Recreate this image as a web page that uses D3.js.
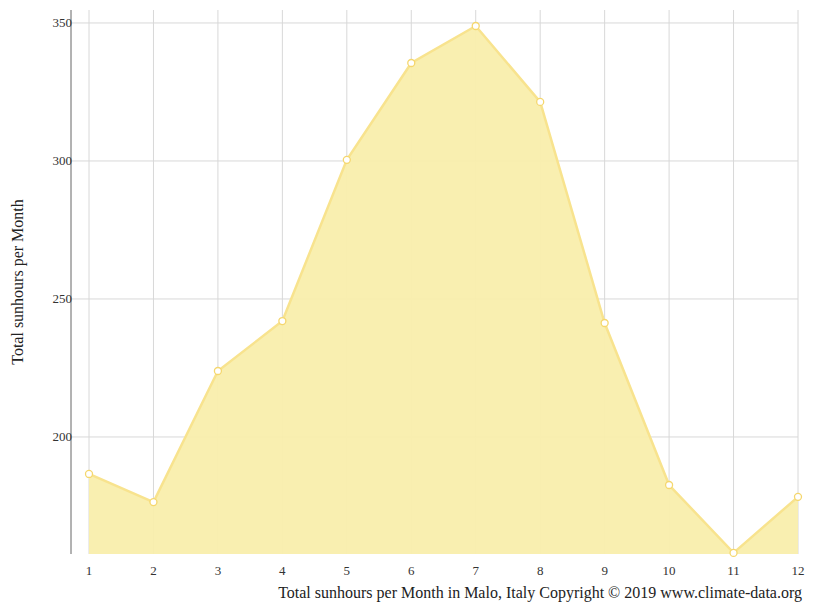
<!DOCTYPE html>
<html><head><meta charset="utf-8">
<script src="https://cdn.jsdelivr.net/npm/d3@7"></script>
<style>body{margin:0;background:#fff}text{font-family:"Liberation Serif",serif}</style>
</head><body><svg width="815" height="611"></svg>
<script>
const months=[1,2,3,4,5,6,7,8,9,10,11,12];
const sunhours=[186.6,176.4,223.9,242,300.4,335.5,348.9,321.4,241.3,182.6,158,178.3];
const yTicks=[200,250,300,350];
const svg=d3.select("svg");
const x=d3.scaleLinear().domain([1,12]).range([89,798]);
const y=d3.scaleLinear().domain([157.6,354.7]).range([554,10]);
svg.selectAll(".vg").data(months).enter().append("line")
 .attr("x1",d=>x(d)).attr("x2",d=>x(d)).attr("y1",10).attr("y2",554).attr("stroke","#d8d8d8");
svg.selectAll(".hg").data(yTicks).enter().append("line")
 .attr("x1",71).attr("x2",798).attr("y1",d=>y(d)).attr("y2",d=>y(d)).attr("stroke","#d8d8d8");
const data=months.map((m,i)=>[m,sunhours[i]]);
svg.append("path").datum(data).attr("fill","#f9eeac").attr("fill-opacity",0.95)
 .attr("d",d3.area().x(d=>x(d[0])).y0(554).y1(d=>y(d[1])));
svg.append("path").datum(data).attr("fill","none").attr("stroke","#f8e38e").attr("stroke-width",2.5)
 .attr("d",d3.line().x(d=>x(d[0])).y(d=>y(d[1])));
svg.selectAll("circle").data(data).enter().append("circle")
 .attr("cx",d=>x(d[0])).attr("cy",d=>y(d[1])).attr("r",3.5).attr("fill","#fff").attr("stroke","#f5d76e").attr("stroke-width",1.3);
svg.append("line").attr("x1",71).attr("x2",71).attr("y1",10).attr("y2",554).attr("stroke","#666");
svg.selectAll(".yl").data(yTicks).enter().append("text")
 .attr("x",72).attr("y",d=>y(d)+4).attr("text-anchor","end").attr("font-size",13).attr("fill","#333").text(d=>d).attr("dx",0).attr("x",72);
svg.selectAll(".yl2").data([]).enter();
svg.selectAll("text").filter(function(){return yTicks.includes(+this.textContent)}).attr("x",72).attr("dx",0);
svg.selectAll(".xl").data(months).enter().append("text")
 .attr("x",d=>x(d)).attr("y",575).attr("text-anchor","middle").attr("font-size",13).attr("fill","#333").text(d=>d);
svg.append("text").attr("transform","translate(23,282) rotate(-90)").attr("text-anchor","middle")
 .attr("font-size",16).attr("fill","#222").text("Total sunhours per Month");
svg.append("text").attr("x",802).attr("y",598).attr("text-anchor","end").attr("font-size",16).attr("fill","#222")
 .text("Total sunhours per Month in Malo, Italy Copyright © 2019 www.climate-data.org");
</script></body></html>
